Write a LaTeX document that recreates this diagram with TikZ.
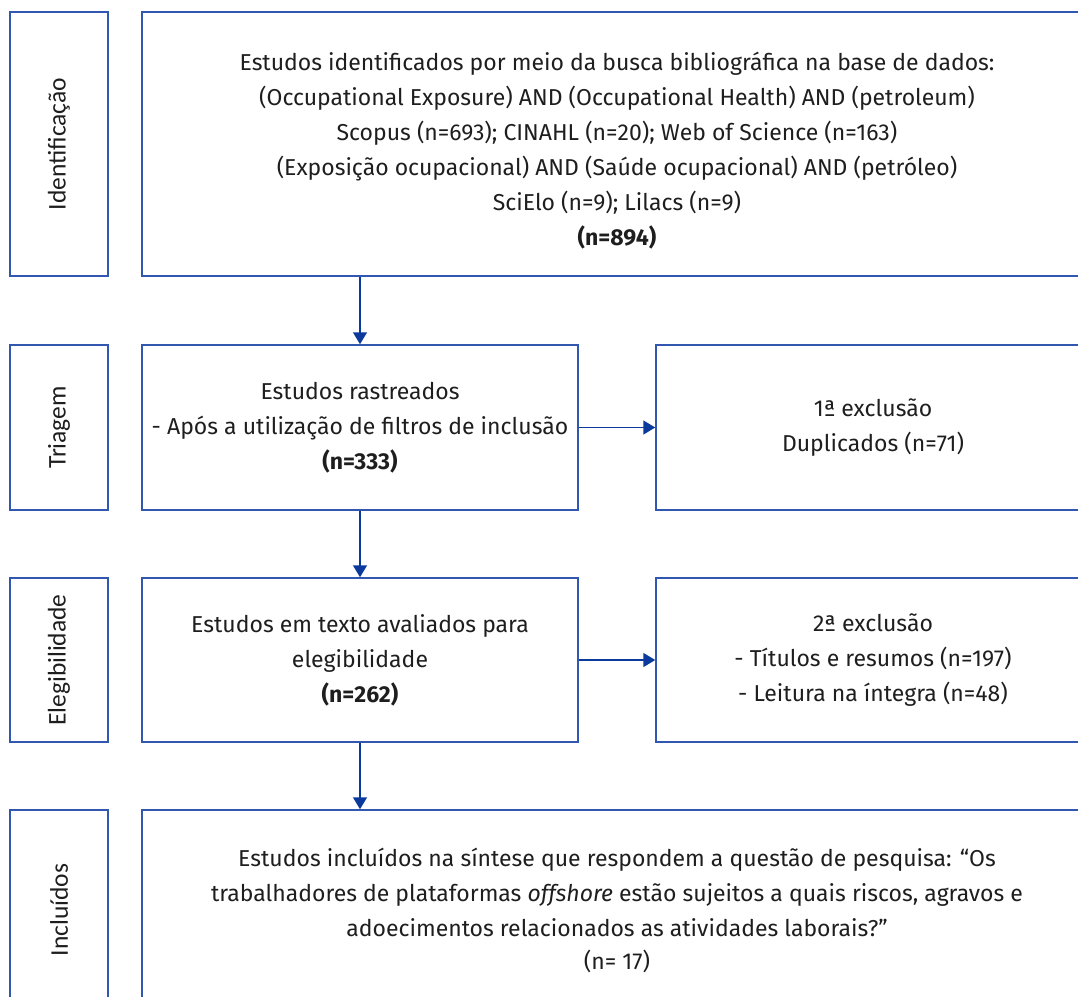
\documentclass[tikz,border=0pt]{standalone}
\usepackage{fontspec}
\setmainfont{Fira Sans}
\newfontfamily\labfont{Carlito}
\usetikzlibrary{arrows.meta}
\definecolor{boxblue}{HTML}{3157B0}
\definecolor{arrblue}{HTML}{0B3A9C}
\definecolor{txt}{HTML}{1E1E1E}
\tikzset{
  box/.style={draw=boxblue, line width=1.5pt, align=center, text=txt,
    font=\fontsize{23}{35}\selectfont, inner sep=0pt},
  lab/.style={draw=boxblue, line width=1.5pt, rotate=90, text=txt,
    font=\labfont\fontsize{25.5}{30}\selectfont, inner sep=0pt},
  arr/.style={draw=arrblue, line width=1.5pt, -{Triangle[length=12pt,width=14pt]}}
}
\begin{document}
\begin{tikzpicture}[x=1pt,y=-1pt]
\useasboundingbox (0,0) rectangle (1078,996);
\clip (0,0) rectangle (1078,996);
% left labels
\node[lab, minimum width=264pt, minimum height=98pt] (l1) at (59,144) {Identificação};
\node[lab, minimum width=165pt, minimum height=98pt] (l2) at (59,427.5) {Triagem};
\node[lab, minimum width=164pt, minimum height=98pt] (l3) at (59,660) {Elegibilidade};
\node[lab, minimum width=200pt, minimum height=98pt] (l4) at (59,910) {Incluídos};
% main boxes
\node[box, minimum width=950pt, minimum height=264pt] (b1) at (617,144) {\rule{0pt}{31pt}Estudos identificados por meio da busca bibliográfica na base de dados:\\
(Occupational Exposure) AND (Occupational Health) AND (petroleum)\\
Scopus (n=693); CINAHL (n=20); Web of Science (n=163)\\
(Exposição ocupacional) AND (Saúde ocupacional) AND (petróleo)\\
SciElo (n=9); Lilacs (n=9)\\
\textbf{(n=894)}};
\node[box, minimum width=436pt, minimum height=165pt] (b2) at (360,427.5) {Estudos rastreados\\
- Após a utilização de filtros de inclusão\\
\textbf{(n=333)}};
\node[box, minimum width=434pt, minimum height=165pt] (r1) at (873,427.5) {1ª exclusão\\
Duplicados (n=71)};
\node[box, minimum width=436pt, minimum height=164pt] (b3) at (360,660) {Estudos em texto avaliados para\\
elegibilidade\\
\textbf{(n=262)}};
\node[box, minimum width=434pt, minimum height=164pt] (r2) at (873,660) {2ª exclusão\\
- Títulos e resumos (n=197)\\
- Leitura na íntegra (n=48)};
\node[box, minimum width=950pt, minimum height=200pt] (b4) at (617,910) {Estudos incluídos na síntese que respondem a questão de pesquisa: “Os\\
trabalhadores de plataformas \textit{offshore} estão sujeitos a quais riscos, agravos e\\
adoecimentos relacionados as atividades laborais?”\\[-2pt]
(n= 17)};
% connectors
\draw[arr] (b1.south -| b2.north) -- (b2.north);
\draw[arr] (b2.south) -- (b3.north);
\draw[arr] (b3.south) -- (b3.south |- b4.north);
\draw[arr] (b2.east) -- (r1.west);
\draw[arr] (b3.east) -- (r2.west);
\end{tikzpicture}
\end{document}
